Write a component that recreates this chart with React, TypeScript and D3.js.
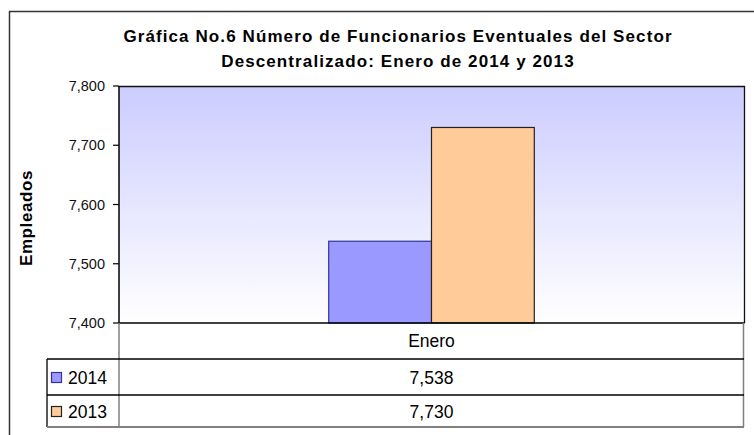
import React from "react";
import * as d3 from "d3";

const categories = ["Enero"];
const seriesNames = ["2014", "2013"];
const seriesValues = [7538, 7730];
const seriesLabels = ["7,538", "7,730"];
const yTicks = [7400, 7500, 7600, 7700, 7800];
const titleLines = [
  "Gráfica No.6 Número de Funcionarios Eventuales del Sector",
  "Descentralizado: Enero de 2014 y 2013",
];
const yTitle = "Empleados";
const fills = ["#9999ff", "#ffcc99"];
const strokes = ["#333399", "#222222"];

export default function App() {
  const W = 754, H = 435;
  const pl = 119, pr = 744, pt = 86, pb = 323;
  const tableLeft = 47;
  const rowTops = [323, 359, 395, 427];
  const y = d3.scaleLinear().domain([7400, 7800]).range([pb, pt]);
  const x0 = d3.scaleBand<string>().domain(categories).range([pl, pr]);
  const x1 = d3
    .scaleBand<string>()
    .domain(seriesNames)
    .range([0, x0.bandwidth()])
    .paddingInner(0)
    .paddingOuter(2.04);
  const fmt = d3.format(",");
  const font = "Arial, 'Liberation Sans', sans-serif";
  const cx = (pl + pr) / 2;

  return (
    <svg
      width={W}
      height={H}
      style={{ position: "absolute", left: 0, top: 0, display: "block" }}
      fontFamily={font}
    >
      <defs>
        <linearGradient id="bg" x1="0" y1="0" x2="0" y2="1">
          <stop offset="0%" stopColor="#ccccff" />
          <stop offset="100%" stopColor="#ffffff" />
        </linearGradient>
      </defs>
      <rect x={0} y={0} width={W} height={H} fill="#ffffff" />
      {/* outer frame */}
      <path d={`M9.5,${H + 2} V11.5 H${W + 2}`} fill="none" stroke="#333" strokeWidth={1.5} />
      {/* title */}
      {titleLines.map((t, i) => (
        <text
          key={i}
          x={398}
          y={42 + i * 25}
          textAnchor="middle"
          fontWeight="bold"
          fontSize={17}
          letterSpacing={1.1}
          fill="#000"
        >
          {t}
        </text>
      ))}
      {/* plot background */}
      <rect x={pl} y={pt} width={pr - pl} height={pb - pt} fill="url(#bg)" />
      {/* bars */}
      {categories.map((c) =>
        seriesNames.map((s, i) => (
          <rect
            key={c + s}
            x={(x0(c) as number) + (x1(s) as number)}
            y={y(seriesValues[i])}
            width={x1.bandwidth()}
            height={pb - y(seriesValues[i])}
            fill={fills[i]}
            stroke={strokes[i]}
            strokeWidth={1.2}
          />
        ))
      )}
      {/* plot border */}
      <path d={`M${pl},${pt + 0.5} H${pr + 0.5} V${pb}`} fill="none" stroke="#111" strokeWidth={1.3} />
      <line x1={pl} x2={pl} y1={pt} y2={pb} stroke="#000" strokeWidth={1.5} />
      <line x1={pl} x2={pr + 0.5} y1={pb} y2={pb} stroke="#000" strokeWidth={1.5} />
      {/* y ticks */}
      {yTicks.map((t) => (
        <g key={t}>
          <line x1={113} x2={pl} y1={y(t)} y2={y(t)} stroke="#000" strokeWidth={1.2} />
          <text x={105} y={y(t) + 5} textAnchor="end" fontSize={14.5} fill="#111">
            {fmt(t)}
          </text>
        </g>
      ))}
      {/* y title */}
      <text
        transform={`translate(32,218) rotate(-90)`}
        textAnchor="middle"
        fontWeight="bold"
        fontSize={17}
        letterSpacing={0.6}
        fill="#000"
      >
        {yTitle}
      </text>
      {/* table */}
      <line x1={pl} x2={pl} y1={pb} y2={rowTops[3]} stroke="#808080" strokeWidth={1.5} />
      <line x1={pr - 0.5} x2={pr - 0.5} y1={pb} y2={rowTops[3]} stroke="#808080" strokeWidth={1.5} />
      <line x1={tableLeft} x2={tableLeft} y1={rowTops[1]} y2={rowTops[3]} stroke="#000" strokeWidth={1.3} />
      <line x1={tableLeft} x2={pr} y1={rowTops[1]} y2={rowTops[1]} stroke="#000" strokeWidth={1.3} />
      <line x1={tableLeft} x2={pr} y1={rowTops[2]} y2={rowTops[2]} stroke="#000" strokeWidth={1.3} />
      <line x1={tableLeft} x2={pr} y1={rowTops[3]} y2={rowTops[3]} stroke="#808080" strokeWidth={1.8} />
      {categories.map((c) => (
        <text
          key={c}
          x={(x0(c) as number) + x0.bandwidth() / 2}
          y={(rowTops[0] + rowTops[1]) / 2 + 6}
          textAnchor="middle"
          fontSize={17.5}
          fill="#000"
        >
          {c}
        </text>
      ))}
      {seriesNames.map((s, i) => {
        const mid = (rowTops[i + 1] + rowTops[i + 2]) / 2;
        return (
          <g key={s}>
            <rect x={51.5} y={mid - 4.5} width={10} height={10} fill={fills[i]} stroke={strokes[i]} strokeWidth={1.2} />
            <text x={68} y={mid + 7} fontSize={17.5} fill="#000">
              {s}
            </text>
            <text x={cx} y={mid + 6.5} textAnchor="middle" fontSize={17.5} fill="#000">
              {seriesLabels[i]}
            </text>
          </g>
        );
      })}
    </svg>
  );
}
